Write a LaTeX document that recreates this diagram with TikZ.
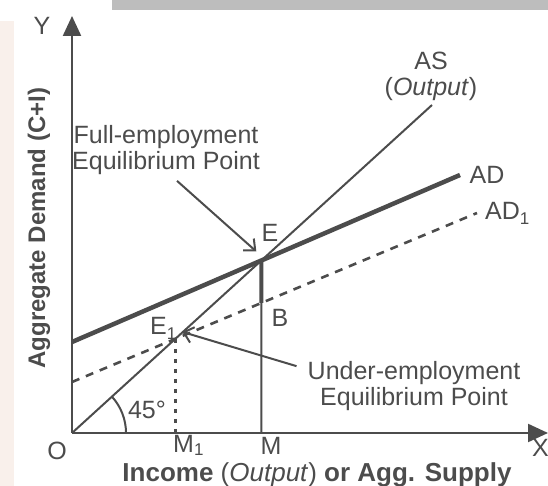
\documentclass[tikz,border=0pt]{standalone}
\usepackage{fontspec}
\setsansfont{Liberation Sans}
\usepackage{tikz}
\usetikzlibrary{positioning, arrows.meta, calc}

\definecolor{ink}{gray}{0.3}
\definecolor{scanbar}{gray}{0.74}
\definecolor{scanedge}{RGB}{249,240,235}
\newcommand{\subone}{\raisebox{-5pt}{\fontsize{17}{17}\selectfont 1}}

\begin{document}
\begin{tikzpicture}[
  x=1pt, y=1pt,
  font=\sffamily\fontsize{25}{26}\selectfont,
  lbl/.style={text=ink, inner sep=0pt},
  note/.style={text=ink, inner sep=0pt, align=center},
  axislbl/.style={text=ink, inner sep=0pt, font=\sffamily\bfseries\fontsize{26}{27}\selectfont},
  axis/.style={ink, line width=2.2pt, -{Triangle[width=18pt, length=20pt]}},
  curve/.style={ink, line width=2pt},
  thickcurve/.style={ink, line width=4.5pt},
  arrow/.style={ink, line width=2pt, -{Straight Barb[length=9pt, width=16pt]}},
]
  \useasboundingbox (0,0) rectangle (548,486);
  % scan edges
  \fill[scanbar] (112,476) rectangle (548,486);
  \fill[scanedge] (0,0) rectangle (14,465);

  % axes
  \coordinate (O) at (72,53);
  \coordinate (Ytop) at (72,470);
  \coordinate (Xtip) at (548,53);
  \draw[axis] (O) -- (Ytop);
  \draw[axis] (O) -- (Xtip);

  % curves
  \coordinate (ASend) at (432,381);
  \coordinate (ADa) at (72,144);
  \coordinate (ADb) at (460,311);
  \coordinate (AD1a) at (72,104);
  \coordinate (AD1b) at (477,273);
  \coordinate (E) at (intersection of O--ASend and ADa--ADb);
  \coordinate (E1) at (intersection of O--ASend and AD1a--AD1b);
  \coordinate (M) at (E |- O);
  \coordinate (M1) at (E1 |- O);
  \coordinate (B) at (intersection of E--M and AD1a--AD1b);

  \draw[curve] (O) -- (ASend);
  \draw[thickcurve] (ADa) -- (ADb);
  \draw[ink, line width=2.6pt, dash pattern=on 8pt off 7pt] (AD1a) -- (AD1b);
  \draw[thickcurve, line width=4pt] (E) -- (B);
  \draw[curve] (B) -- (M);
  \draw[ink, line width=3pt, dash pattern=on 4pt off 6pt] (E1) -- (M1);
  \draw[curve] ([xshift=54pt]O) arc[start angle=0, end angle=42.3, radius=54pt];

  % labels
  \node[lbl] (Ylbl) at (42,460) {Y};
  \node[lbl, anchor=west] (Xlbl) at (532,38) {X};
  \node[lbl] (Olbl) at (57,35) {O};
  \node[lbl, anchor=base west] (M1lbl) at (173,33) {M\raisebox{-3pt}{\fontsize{17}{17}\selectfont 1}};
  \node[lbl, anchor=base] (Mlbl) at (271,31) {M};
  \node[lbl] (Elbl) at (270,253) {E};
  \node[lbl] (Blbl) at (280,168) {B};
  \node[lbl, anchor=base west] (E1lbl) at (150,151) {E\subone};
  \node[lbl] (anglbl) at (147,76) {45°};
  \node[lbl] (ADlbl) at (487,311) {AD};
  \node[lbl, anchor=base west] (AD1lbl) at (485,266) {AD\subone};
  \node[note] (ASlbl) at (431,410) {AS\\(\textit{Output})};
  \node[note] (fullpt) at (166,336) {Full-employment\\Equilibrium Point};
  \node[note] (underpt) at (414,100) {Under-employment\\Equilibrium Point};
  \node[axislbl, anchor=base] (xaxislbl) at (317,4) {Income \textmd{(\textit{Output})} or Agg. Supply};
  \node[axislbl, rotate=90, font=\sffamily\bfseries\fontsize{24}{25}\selectfont] (yaxislbl) at (39,258) {Aggregate Demand (C+I)};

  % pointers
  \draw[arrow] ([xshift=11pt, yshift=-6pt]fullpt.south) -- ([shift={(-5pt,9pt)}]E);
  \draw[arrow] ([xshift=-11pt, yshift=-5pt]underpt.north west) -- ([shift={(7pt,7pt)}]E1);
\end{tikzpicture}
\end{document}
